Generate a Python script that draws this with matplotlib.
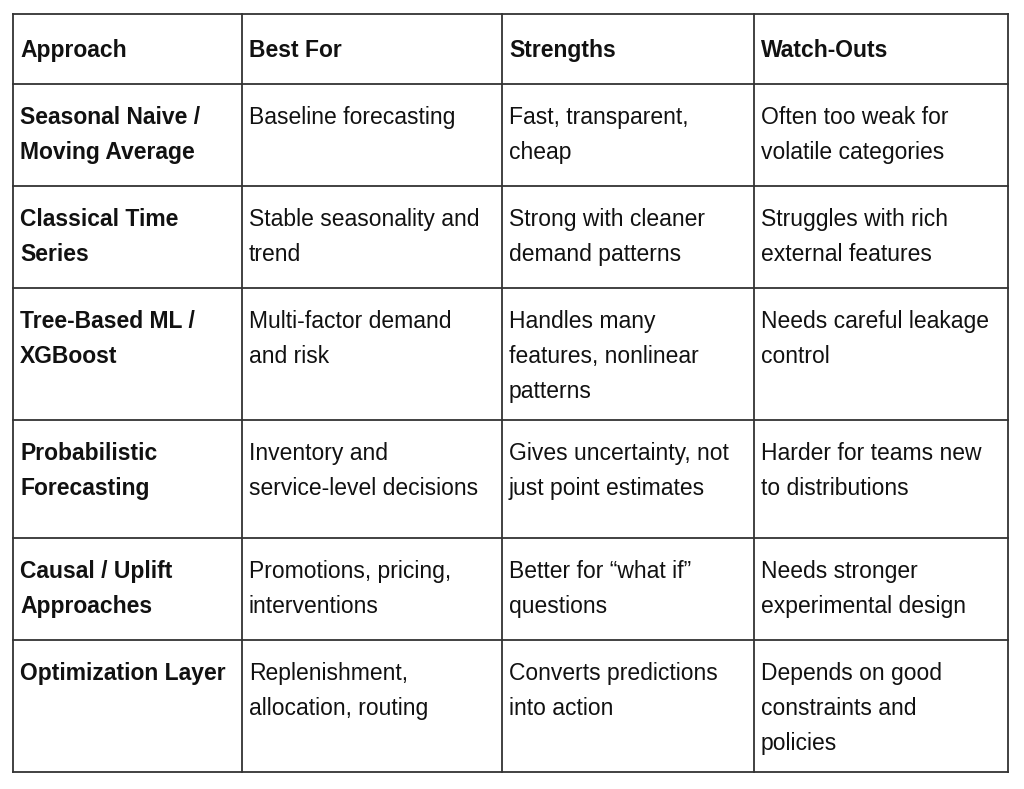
import matplotlib.pyplot as plt

headers = ["Approach", "Best For", "Strengths", "Watch-Outs"]
approach = ["Seasonal Naive /\nMoving Average", "Classical Time\nSeries", "Tree-Based ML /\nXGBoost",
            "Probabilistic\nForecasting", "Causal / Uplift\nApproaches", "Optimization Layer"]
best_for = ["Baseline forecasting", "Stable seasonality and\ntrend", "Multi-factor demand\nand risk",
            "Inventory and\nservice-level decisions", "Promotions, pricing,\ninterventions",
            "Replenishment,\nallocation, routing"]
strengths = ["Fast, transparent,\ncheap", "Strong with cleaner\ndemand patterns",
             "Handles many\nfeatures, nonlinear\npatterns", "Gives uncertainty, not\njust point estimates",
             "Better for \u201cwhat if\u201d\nquestions", "Converts predictions\ninto action"]
watch_outs = ["Often too weak for\nvolatile categories", "Struggles with rich\nexternal features",
              "Needs careful leakage\ncontrol", "Harder for teams new\nto distributions",
              "Needs stronger\nexperimental design", "Depends on good\nconstraints and\npolicies"]

col_x = [13, 242, 502, 754, 1008]
row_y = [14, 84, 186, 288, 420, 538, 640, 772]

fig = plt.figure(figsize=(10.24, 7.89), dpi=100)
ax = fig.add_axes([0, 0, 1, 1])
ax.set_xlim(0, 1024)
ax.set_ylim(789, 0)
ax.axis('off')

for x in col_x:
    ax.plot([x, x], [row_y[0], row_y[-1]], color='#333333', lw=1.3)
for y in row_y:
    ax.plot([col_x[0], col_x[-1]], [y, y], color='#333333', lw=1.3)

fs = 16.5
for c, h in enumerate(headers):
    ax.text(col_x[c] + 7, row_y[0] + 34, h, fontsize=fs, family='Liberation Sans',
            fontweight='bold', va='center_baseline', ha='left', color='#111111')

for r in range(len(approach)):
    for c, col in enumerate([approach, best_for, strengths, watch_outs]):
        ax.text(col_x[c] + 7, row_y[r + 1] + 22, col[r], fontsize=fs, family='Liberation Sans',
                fontweight='bold' if c == 0 else 'normal', va='top', ha='left',
                linespacing=1.67, color='#111111')

fig.savefig('out.png', dpi=100, facecolor='white')
